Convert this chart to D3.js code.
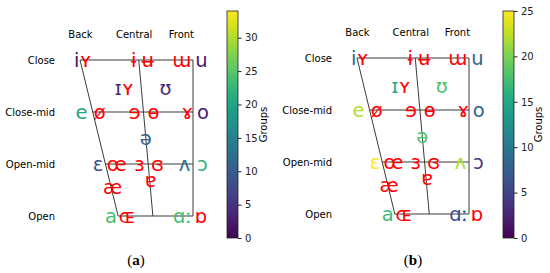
<!DOCTYPE html>
<html><head><meta charset="utf-8">
<script src="https://cdn.jsdelivr.net/npm/d3@7"></script>
<style>html,body{margin:0;padding:0;background:#fff}svg{display:block}</style>
</head><body><script>
// ---- data ----
const rowLabels = ["Open", "Open-mid", "Close-mid", "Close"];   // y = 0..3
const rowValues = [0, 1, 2, 3];
const colLabels = ["Back", "Central", "Front"];
const colValues = [0, 1.9, 3.57];
const vowels = ["i","ʏ","ɨ","ʉ","ɯ","u","ɪ","ʏ","ʊ","e","ø","ɘ","ɵ","ɤ","o","ə","ɛ","œ","ɜ","ɞ","ʌ","ɔ","ɐ","æ","a","ɶ","ɑː","ɒ"];
const vowelX = [-0.12,0.2,1.9,2.4,3.6,4.3, 1.35,1.7,3.03, 0.05,0.7,1.93,2.6,3.8,4.35, 2.33, 0.64,1.3,2.1,2.74,3.7,4.33, 2.5,1.15, 1.1,1.67,3.63,4.28];
const vowelY = [3,3,3,3,3,3, 2.46,2.46,2.46, 2,2,2,2,2,2, 1.5, 1,1,1,1,1,1, 0.68,0.54, 0,0,0,0];
// group counts per vowel (null = not present, drawn in red)
const groupsA = [2,null,null,null,null,2, 4,null,4, 20,null,null,null,null,3, 11, 9,null,null,null,13,22, null,null, 24,null,24,null];
const groupsB = [8,null,null,null,null,8, 15,null,18, 22,null,null,null,null,8, 18, 25,null,null,null,22,4, null,null, 17,null,6,null];
const maxA = 34, maxB = 25;
const ticksA = [0,5,10,15,20,25,30];
const ticksB = [0,5,10,15,20,25];
// chart frame (trapezoid) in data units
const frameLines = [
  [[0,3],[4,3]], [[4,3],[4,0]], [[1.35,0],[4,0]], [[0,3],[1.35,0]],
  [[2.08,3],[2.58,0]], [[0.45,2],[4,2]], [[0.9,1],[4,1]]
];
const captions = ["a", "b"];

const W = 550, H = 273;
const svg = d3.select("body").append("svg").attr("width", W).attr("height", H)
  .style("font-family", "'DejaVu Sans', sans-serif");

const panels = [
  {xr:[80,193], yr:[216,60], groups:groupsA, max:maxA, ticks:ticksA, cb:[227,238], lab:263, cap:136},
  {xr:[357,469], yr:[214,58], groups:groupsB, max:maxB, ticks:ticksB, cb:[503,514], lab:538, cap:413}
];

const defs = svg.append("defs");
const grad = defs.append("linearGradient").attr("id","vir").attr("x1",0).attr("y1",1).attr("x2",0).attr("y2",0);
d3.range(0, 1.0001, 0.05).forEach(t => grad.append("stop").attr("offset", t).attr("stop-color", d3.interpolateViridis(t)));

panels.forEach((p, pi) => {
  const x = d3.scaleLinear().domain([0,4]).range(p.xr);
  const y = d3.scaleLinear().domain([0,3]).range(p.yr);
  const color = d3.scaleSequential(d3.interpolateViridis).domain([0, p.max]);
  const g = svg.append("g");

  g.selectAll("line.frame").data(frameLines).join("line")
    .attr("x1", d => x(d[0][0])).attr("y1", d => y(d[0][1]))
    .attr("x2", d => x(d[1][0])).attr("y2", d => y(d[1][1]))
    .attr("stroke", "#3a3a3a").attr("stroke-width", 1);

  // row labels
  const ya = g.append("g").attr("transform", `translate(${x(0)},0)`)
    .call(d3.axisLeft(y).tickValues(rowValues).tickFormat(d => rowLabels[d]).tickSize(0).tickPadding(25));
  ya.select(".domain").remove();
  ya.selectAll("text").attr("font-size", 10).attr("font-family", "'DejaVu Sans', sans-serif").attr("fill", "#000");

  // column labels
  const xa = g.append("g").attr("transform", `translate(0,${y(3)})`)
    .call(d3.axisTop(x).tickValues(colValues).tickFormat((d, i) => colLabels[i]).tickSize(0).tickPadding(22));
  xa.select(".domain").remove();
  xa.selectAll("text").attr("font-size", 10).attr("font-family", "'DejaVu Sans', sans-serif").attr("fill", "#000");

  // vowels
  g.selectAll("text.v").data(vowels).join("text").attr("class","v")
    .attr("x", (d, i) => x(vowelX[i])).attr("y", (d, i) => y(vowelY[i]))
    .attr("text-anchor", "middle").attr("dominant-baseline", "central")
    .attr("font-size", 19.5)
    .attr("fill", (d, i) => p.groups[i] == null ? "#ff0000" : color(p.groups[i]))
    .text(d => d);

  // colorbar
  const cy = d3.scaleLinear().domain([0, p.max]).range([238, 11]);
  g.append("rect").attr("x", p.cb[0]).attr("y", 11).attr("width", p.cb[1]-p.cb[0]).attr("height", 227)
    .attr("fill", "url(#vir)").attr("stroke", "#222").attr("stroke-width", 0.8);
  const ca = g.append("g").attr("transform", `translate(${p.cb[1]},0)`)
    .call(d3.axisRight(cy).tickValues(p.ticks).tickSize(3.5).tickPadding(3.5));
  ca.select(".domain").remove();
  ca.selectAll("text").attr("font-size", 10).attr("font-family", "'DejaVu Sans', sans-serif").attr("fill", "#222");
  ca.selectAll("line").attr("stroke", "#222");
  g.append("text").attr("transform", `translate(${p.lab},124.5) rotate(-90)`)
    .attr("text-anchor", "middle").attr("dominant-baseline", "central")
    .attr("font-size", 10).text("Groups");

  // caption
  const cap = g.append("text").attr("x", p.cap).attr("y", 265).attr("text-anchor", "middle")
    .attr("font-family", "'Liberation Serif', 'DejaVu Serif', serif").attr("font-size", 15);
  cap.append("tspan").text("(");
  cap.append("tspan").attr("font-weight", "bold").text(captions[pi]);
  cap.append("tspan").text(")");
});
</script></body></html>
